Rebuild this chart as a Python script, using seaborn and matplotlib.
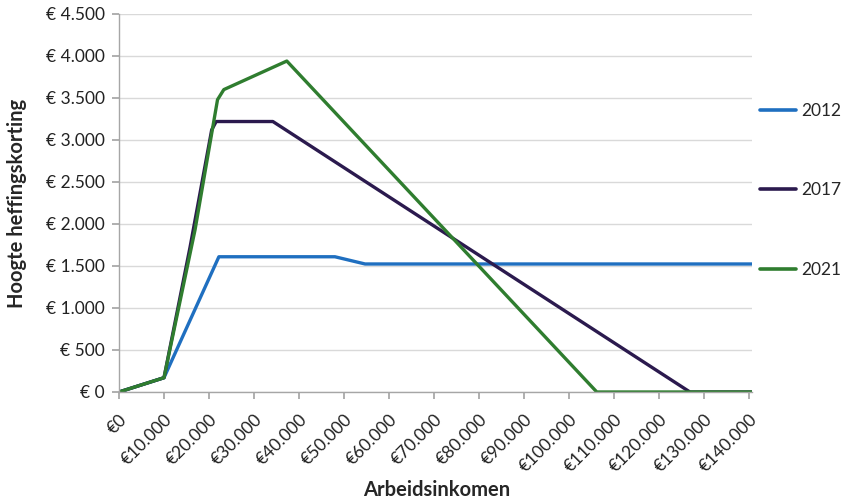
import matplotlib
matplotlib.use("Agg")
import matplotlib.pyplot as plt
import seaborn as sns
import pandas as pd

# Data
x_2012 = [0, 10000, 22200, 48000, 54700, 141000]
y_2012 = [0, 170, 1610, 1610, 1524, 1524]

x_2017 = [0, 10000, 15800, 20600, 21600, 34200, 126900, 141000]
y_2017 = [0, 170, 1726, 3120, 3220, 3220, 0, 0]

x_2021 = [0, 10000, 16900, 21900, 23300, 37300, 106200, 141000]
y_2021 = [0, 170, 1930, 3480, 3600, 3940, 0, 0]

years = ["2012", "2017", "2021"]
colors = ["#1f6fc0", "#2b1a4e", "#2f7d2f"]

y_ticks = [0, 500, 1000, 1500, 2000, 2500, 3000, 3500, 4000, 4500]
y_ticklabels = ["€ 0", "€ 500", "€ 1.000", "€ 1.500", "€ 2.000", "€ 2.500",
                "€ 3.000", "€ 3.500", "€ 4.000", "€ 4.500"]
x_ticks = list(range(0, 150000, 10000))
x_ticklabels = ["€0", "€10.000", "€20.000", "€30.000", "€40.000", "€50.000",
                "€60.000", "€70.000", "€80.000", "€90.000", "€100.000",
                "€110.000", "€120.000", "€130.000", "€140.000"]

rows = []
for yr, xs, ys in zip(years, [x_2012, x_2017, x_2021], [y_2012, y_2017, y_2021]):
    for i, (a, b) in enumerate(zip(xs, ys)):
        rows.append({"jaar": yr, "inkomen": a, "korting": b, "i": i})
df = pd.DataFrame(rows)

sns.set_theme(style="white")
plt.rcParams["font.family"] = ["Lato", "DejaVu Sans"]

fig = plt.figure(figsize=(8.56, 5.0), dpi=100)
ax = fig.add_axes([119/856, 108/500, (752-119)/856, (392-14)/500])

sns.lineplot(data=df, x="inkomen", y="korting", hue="jaar", hue_order=years,
             palette=dict(zip(years, colors)), estimator=None, sort=False,
             linewidth=2.4, ax=ax)

ax.set_xlim(0, 140700)
ax.set_ylim(0, 4500)
ax.set_yticks(y_ticks)
ax.set_yticklabels(y_ticklabels, fontsize=12.5, color="#222222")
ax.set_xticks(x_ticks)
ax.set_xticklabels(x_ticklabels, rotation=45, ha="right", rotation_mode="anchor",
                   fontsize=12.5, color="#222222")
ax.yaxis.grid(True, color="#d9d9d9", linewidth=1)
ax.set_axisbelow(True)
for s in ["top", "right"]:
    ax.spines[s].set_visible(False)
for s in ["left", "bottom"]:
    ax.spines[s].set_color("#a6a6a6")
    ax.spines[s].set_linewidth(1)
ax.tick_params(axis="both", which="major", length=5, color="#a6a6a6",
               direction="out", bottom=True, left=True)
ax.tick_params(axis="y", pad=5)
ax.tick_params(axis="x", pad=9)
ax.set_xlabel("Arbeidsinkomen", fontsize=14.5, fontweight="bold")
ax.set_ylabel("Hoogte heffingskorting", fontsize=14.5, fontweight="bold")
ax.xaxis.set_label_coords(0.502, -0.232)
ax.yaxis.set_label_coords(-0.145, 0.50)

leg = ax.legend(title=None, loc="upper left", bbox_to_anchor=(760/856, 1 - 103/500),
                bbox_transform=fig.transFigure,
                frameon=False, fontsize=12.5, labelspacing=3.65, handlelength=2.1,
                handletextpad=0.25, borderaxespad=0, borderpad=0)
for line in leg.get_lines():
    line.set_linewidth(2.6)

fig.savefig("out.png", dpi=100)
